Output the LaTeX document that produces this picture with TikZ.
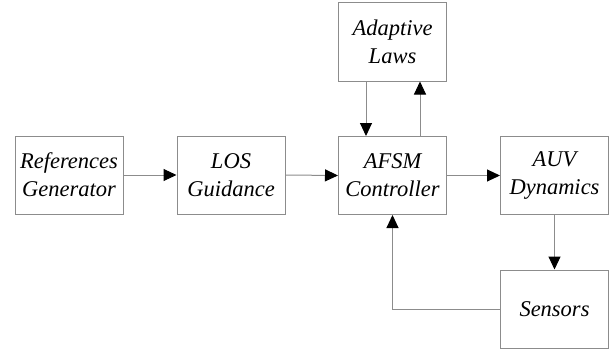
\documentclass[tikz,border=0pt]{standalone}
\usepackage{fontspec}
\setmainfont{Liberation Serif}
\usetikzlibrary{arrows.meta}
\definecolor{linegray}{RGB}{140,140,140}
\tikzset{
  blk/.style={draw=linegray, line width=1pt, minimum width=108pt, minimum height=78pt,
    align=center, inner sep=0pt, font=\fontsize{22.5}{28}\selectfont\itshape},
  arr/.style={draw=linegray, line width=1pt, -{Triangle[length=13pt,width=12pt,color=black,fill=black]}}
}
\begin{document}
\begin{tikzpicture}[x=1pt,y=-1pt]
\useasboundingbox (0,0) rectangle (615,353);
\node[blk] (ref) at (69,175) {References\\Generator};
\node[blk] (los) at (231,175) {LOS\\Guidance};
\node[blk] (ctrl) at (392.5,175.5) {AFSM\\Controller};
\node[blk] (adapt) at (392.5,42) {Adaptive\\Laws};
\node[blk] (auv) at (554.5,175.5) {AUV\\Dynamics};
\node[blk] (sens) at (554.5,309) {Sensors};
\draw[arr] (ref.east) -- (los.west);
\draw[arr] (los.east) -- (ctrl.west);
\draw[arr] (ctrl.east) -- (auv.west);
\draw[arr] (auv.south) -- (sens.north);
\draw[arr] ([xshift=-26.5pt]adapt.south) -- ([xshift=-26.5pt]ctrl.north);
\draw[arr] ([xshift=27.5pt]ctrl.north) -- ([xshift=27.5pt]adapt.south);
\draw[arr] (sens.west) -| (ctrl.south);
\end{tikzpicture}
\end{document}
